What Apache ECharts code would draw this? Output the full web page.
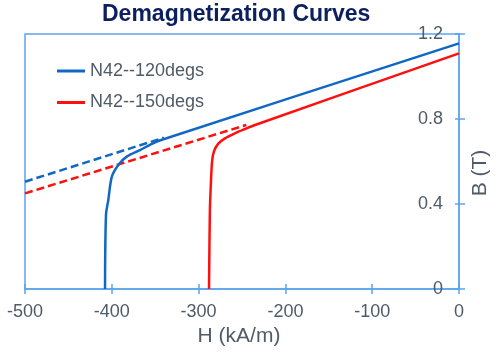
<!DOCTYPE html>
<html>
<head>
<meta charset="utf-8">
<script src="https://cdn.jsdelivr.net/npm/echarts@6/dist/echarts.min.js"></script>
<style>
html,body{margin:0;padding:0;background:#fff;}
#c{width:500px;height:353px;}
</style>
</head>
<body>
<div id="c"></div>
<script>
const titleText = 'Demagnetization Curves';
const xTicks = [-500, -400, -300, -200, -100, 0];
const yTicks = [0, 0.4, 0.8, 1.2];
const nameBlue = 'N42--120degs';
const nameRed = 'N42--150degs';
const hBlue = [-407.8, -406.7, -404, -400, -392.5, -382.8, -367.5, -356, -344, 0];
const bBlue = [0, 0.348, 0.419, 0.528, 0.584, 0.623, 0.654, 0.678, 0.700, 1.156];
const hRed = [-288, -287, -286, -284.5, -282.3, -277.3, -269.6, -258, -246.5, -235, 0];
const bRed = [0, 0.372, 0.48, 0.6, 0.648, 0.684, 0.709, 0.733, 0.753, 0.772, 1.109];
const hBlueDash = [-500, -340];
const bBlueDash = [0.505, 0.712];
const hRedDash = [-500, -245];
const bRedDash = [0.45, 0.772];

const zip = (a, b) => a.map((v, i) => [v, b[i]]);
const axisCol = '#5ea4ec';
const txtCol = '#4f5b67';
const blue = '#1068c4';
const red = '#ff1010';
const font = 'Liberation Sans, Arial, sans-serif';

const chart = echarts.init(document.getElementById('c'));
chart.setOption({
  animation: false,
  textStyle: {fontFamily: font},
  title: {
    text: titleText, left: 97, top: -2,
    textStyle: {fontFamily: font, fontSize: 23, fontWeight: 'bold', color: '#0c1f5e'}
  },
  legend: {
    data: [nameBlue, nameRed], orient: 'vertical', left: 52, top: 57,
    icon: 'rect', itemWidth: 28, itemHeight: 3, itemGap: 13.5,
    textStyle: {fontFamily: font, fontSize: 18, color: txtCol}
  },
  grid: {left: 25, right: 41, top: 34, bottom: 64, show: true, borderColor: axisCol, borderWidth: 1.5},
  xAxis: [{
    type: 'value', min: xTicks[0], max: xTicks[xTicks.length - 1], interval: 100,
    position: 'bottom',
    axisLine: {show: true, lineStyle: {color: axisCol, width: 1.5}},
    axisTick: {show: true, length: 5, lineStyle: {color: axisCol, width: 1.5}},
    splitLine: {show: false},
    axisLabel: {fontSize: 18, color: txtCol, margin: 14, fontFamily: font},
    name: 'H (kA/m)', nameLocation: 'middle', nameGap: 37,
    nameTextStyle: {fontSize: 21, color: txtCol, fontFamily: font, padding: [0, 6, 0, 0]}
  }, {
    type: 'value', min: xTicks[0], max: xTicks[xTicks.length - 1], interval: 100,
    position: 'bottom',
    axisLine: {show: false},
    axisTick: {show: true, inside: true, length: 5, lineStyle: {color: axisCol, width: 1.5}},
    splitLine: {show: false}, axisLabel: {show: false}
  }],
  yAxis: [{
    type: 'value', min: yTicks[0], max: yTicks[yTicks.length - 1], interval: 0.4,
    position: 'right',
    axisLine: {show: true, lineStyle: {color: axisCol, width: 1.5}},
    axisTick: {show: true, length: 6, lineStyle: {color: axisCol, width: 1.5}},
    splitLine: {show: false},
    axisLabel: {inside: true, fontSize: 18, color: txtCol, margin: 16, fontFamily: font,
      formatter: v => String(Math.round(v * 10) / 10)},
    name: 'B (T)', nameLocation: 'middle', nameGap: 10.5, nameRotate: 90,
    nameTextStyle: {fontSize: 21, color: txtCol, fontFamily: font, padding: [0, 23, 0, 0]}
  }, {
    type: 'value', min: yTicks[0], max: yTicks[yTicks.length - 1], interval: 0.4,
    position: 'right',
    axisLine: {show: false},
    axisTick: {show: true, inside: true, length: 4, lineStyle: {color: axisCol, width: 1.5}},
    splitLine: {show: false}, axisLabel: {show: false}
  }],
  series: [
    {name: 'b-dash', type: 'line', data: zip(hBlueDash, bBlueDash), symbol: 'none',
     lineStyle: {color: blue, width: 2.5, type: [8, 4]}, silent: true},
    {name: 'r-dash', type: 'line', data: zip(hRedDash, bRedDash), symbol: 'none',
     lineStyle: {color: red, width: 2.5, type: [8, 4]}, silent: true},
    {name: nameBlue, type: 'line', data: zip(hBlue, bBlue), symbol: 'none', smooth: 0.3,
     itemStyle: {color: blue}, lineStyle: {color: blue, width: 2.5}},
    {name: nameRed, type: 'line', data: zip(hRed, bRed), symbol: 'none', smooth: 0.3,
     itemStyle: {color: red}, lineStyle: {color: red, width: 2.5}}
  ]
});
</script>
</body>
</html>
